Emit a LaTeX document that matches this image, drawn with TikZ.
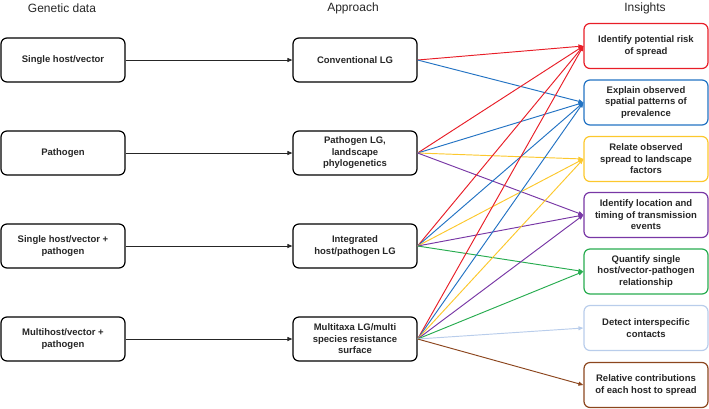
\documentclass[tikz,border=0pt]{standalone}
\usepackage{fontspec}
\setmainfont{Liberation Sans}
\usetikzlibrary{arrows.meta}
\definecolor{cred}{RGB}{232,30,40}
\definecolor{cblue}{RGB}{35,115,195}
\definecolor{cyellow}{RGB}{252,200,45}
\definecolor{cpurple}{RGB}{120,55,165}
\definecolor{cgreen}{RGB}{40,172,80}
\definecolor{clight}{RGB}{185,205,235}
\definecolor{cbrown}{RGB}{140,70,30}
\tikzset{
  box/.style={draw, line width=1.2pt, rounded corners=6pt, minimum width=124pt, inner sep=2pt,
    align=center, font=\fontsize{9.5}{11.5}\selectfont\bfseries, text=black!85},
  lbox/.style={box, minimum height=44pt},
  rbox/.style={box, minimum height=45pt},
  hdr/.style={font=\fontsize{12}{14}\selectfont, text=black!85},
  conn/.style={line width=0.95pt, -{Triangle[length=5pt,width=4pt]}},
}
\begin{document}
\begin{tikzpicture}[x=1pt,y=-1pt]
\useasboundingbox (0,0) rectangle (709,408);
\node[hdr] (h1) at (62,8) {Genetic data};
\node[hdr] (h2) at (353,8) {Approach};
\node[hdr] (h3) at (645,8) {Insights};

\node[lbox] (g1) at (63,60) {Single host/vector};
\node[lbox] (g2) at (63,153) {Pathogen};
\node[lbox] (g3) at (63,246) {Single host/vector +\\pathogen};
\node[lbox] (g4) at (63,339) {Multihost/vector +\\pathogen};

\node[lbox] (a1) at (355,60) {Conventional LG};
\node[lbox] (a2) at (355,153) {Pathogen LG,\\landscape\\phylogenetics};
\node[lbox] (a3) at (355,246) {Integrated\\host/pathogen LG};
\node[lbox] (a4) at (355,339) {Multitaxa LG/multi\\species resistance\\surface};

\node[rbox, draw=cred] (i1) at (646,46) {Identify potential risk\\of spread};
\node[rbox, draw=cblue] (i2) at (646,102.5) {Explain observed\\spatial patterns of\\prevalence};
\node[rbox, draw=cyellow] (i3) at (646,159) {Relate observed\\spread to landscape\\factors};
\node[rbox, draw=cpurple] (i4) at (646,215) {Identify location and\\timing of transmission\\events};
\node[rbox, draw=cgreen] (i5) at (646,271.5) {Quantify single\\host/vector-pathogen\\relationship};
\node[rbox, draw=clight] (i6) at (646,328) {Detect interspecific\\contacts};
\node[rbox, draw=cbrown] (i7) at (646,385) {Relative contributions\\of each host to spread};

\foreach \k in {1,2,3,4} \draw[conn, black!85] (g\k.east) -- (a\k.west);

\draw[conn, cred] (a1.east) -- (i1.west);
\draw[conn, cblue] (a1.east) -- (i2.west);

\draw[conn, cred] (a2.east) -- (i1.west);
\draw[conn, cblue] (a2.east) -- (i2.west);
\draw[conn, cyellow] (a2.east) -- (i3.west);
\draw[conn, cpurple] (a2.east) -- (i4.west);

\draw[conn, cred] (a3.east) -- (i1.west);
\draw[conn, cblue] (a3.east) -- (i2.west);
\draw[conn, cyellow] (a3.east) -- (i3.west);
\draw[conn, cpurple] (a3.east) -- (i4.west);
\draw[conn, cgreen] (a3.east) -- (i5.west);

\draw[conn, cred] (a4.east) -- (i1.west);
\draw[conn, cblue] (a4.east) -- (i2.west);
\draw[conn, cyellow] (a4.east) -- (i3.west);
\draw[conn, cpurple] (a4.east) -- (i4.west);
\draw[conn, cgreen] (a4.east) -- (i5.west);
\draw[conn, clight] (a4.east) -- (i6.west);
\draw[conn, cbrown] (a4.east) -- (i7.west);
\end{tikzpicture}
\end{document}
